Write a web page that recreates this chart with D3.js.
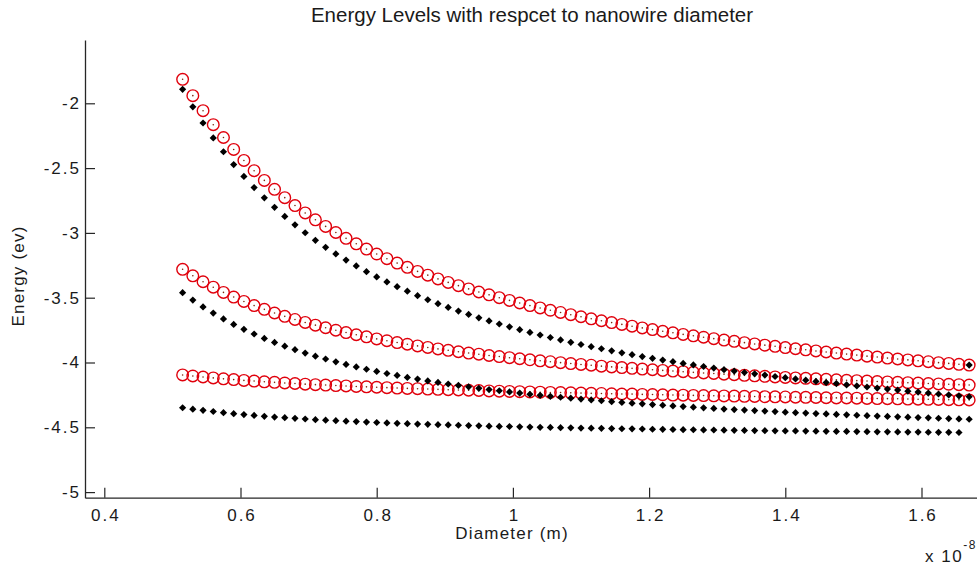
<!DOCTYPE html>
<html><head><meta charset="utf-8">
<script src="https://cdn.jsdelivr.net/npm/d3@7"></script>
<style>
body{margin:0;background:#fff}
svg{display:block}
text{font-family:"Liberation Sans",Arial,Helvetica,sans-serif;fill:#1a1a1a}
</style>
</head><body>
<svg id="chart" width="977" height="568"></svg>
<script>
// Diameter (units of 1e-8 m)
const diameter = [0.515,0.530,0.545,0.560,0.575,0.590,0.605,0.620,0.635,0.650,
0.665,0.680,0.695,0.710,0.725,0.740,0.755,0.770,0.785,0.800,
0.815,0.830,0.845,0.860,0.875,0.890,0.905,0.920,0.935,0.950,
0.965,0.980,0.995,1.010,1.025,1.040,1.055,1.070,1.085,1.100,
1.115,1.130,1.145,1.160,1.175,1.190,1.205,1.220,1.235,1.250,
1.265,1.280,1.295,1.310,1.325,1.340,1.355,1.370,1.385,1.400,
1.415,1.430,1.445,1.460,1.475,1.490,1.505,1.520,1.535,1.550,
1.565,1.580,1.595,1.610,1.625,1.640,1.655,1.670];

// red circle series
const red1 = [-1.815,-1.941,-2.057,-2.165,-2.264,-2.356,-2.441,-2.520,-2.595,-2.664,
-2.728,-2.789,-2.846,-2.899,-2.950,-2.997,-3.042,-3.084,-3.125,-3.163,
-3.199,-3.233,-3.266,-3.297,-3.326,-3.355,-3.382,-3.407,-3.432,-3.456,
-3.478,-3.500,-3.521,-3.541,-3.561,-3.579,-3.597,-3.614,-3.631,-3.647,
-3.663,-3.678,-3.692,-3.706,-3.720,-3.733,-3.746,-3.759,-3.771,-3.783,
-3.794,-3.805,-3.816,-3.827,-3.837,-3.847,-3.857,-3.866,-3.875,-3.885,
-3.894,-3.902,-3.911,-3.919,-3.927,-3.935,-3.943,-3.951,-3.958,-3.966,
-3.973,-3.980,-3.987,-3.994,-4.001,-4.007,-4.014,-4.020];
const red2 = [-3.281,-3.331,-3.377,-3.419,-3.459,-3.495,-3.529,-3.561,-3.590,-3.618,
-3.644,-3.668,-3.691,-3.712,-3.732,-3.751,-3.769,-3.786,-3.802,-3.818,
-3.832,-3.846,-3.859,-3.872,-3.884,-3.895,-3.906,-3.917,-3.927,-3.936,
-3.946,-3.954,-3.963,-3.971,-3.979,-3.987,-3.994,-4.001,-4.008,-4.015,
-4.021,-4.028,-4.034,-4.039,-4.045,-4.051,-4.056,-4.061,-4.066,-4.071,
-4.076,-4.081,-4.085,-4.090,-4.094,-4.099,-4.103,-4.107,-4.111,-4.115,
-4.119,-4.122,-4.126,-4.130,-4.133,-4.137,-4.140,-4.143,-4.147,-4.150,
-4.153,-4.156,-4.159,-4.162,-4.165,-4.168,-4.171,-4.174];
const red3 = [-4.096,-4.104,-4.112,-4.119,-4.126,-4.132,-4.138,-4.143,-4.149,-4.153,
-4.158,-4.162,-4.167,-4.171,-4.174,-4.178,-4.181,-4.185,-4.188,-4.191,
-4.194,-4.197,-4.200,-4.202,-4.205,-4.207,-4.210,-4.212,-4.214,-4.216,
-4.219,-4.221,-4.223,-4.225,-4.227,-4.229,-4.231,-4.232,-4.234,-4.236,
-4.238,-4.239,-4.241,-4.243,-4.244,-4.246,-4.247,-4.249,-4.251,-4.252,
-4.254,-4.255,-4.257,-4.258,-4.259,-4.261,-4.262,-4.264,-4.265,-4.266,
-4.268,-4.269,-4.270,-4.272,-4.273,-4.274,-4.275,-4.277,-4.278,-4.279,
-4.280,-4.282,-4.283,-4.284,-4.285,-4.287,-4.288,-4.289];

// black diamond series
const black1 = [-1.892,-2.027,-2.152,-2.267,-2.374,-2.473,-2.564,-2.650,-2.729,-2.803,
-2.873,-2.938,-2.999,-3.057,-3.111,-3.162,-3.210,-3.255,-3.299,-3.340,
-3.378,-3.415,-3.450,-3.484,-3.516,-3.546,-3.575,-3.603,-3.629,-3.655,
-3.679,-3.703,-3.725,-3.747,-3.768,-3.788,-3.807,-3.826,-3.844,-3.861,
-3.878,-3.894,-3.910,-3.925,-3.940,-3.954,-3.968,-3.981,-3.994,-4.007,
-4.019,-4.031,-4.043,-4.055,-4.066,-4.077,-4.087,-4.097,-4.108,-4.117,
-4.127,-4.136,-4.146,-4.155,-4.163,-4.172,-4.181,-4.189,-4.197,-4.205,
-4.213,-4.221,-4.228,-4.236,-4.243,-4.250,-4.257,-4.264];
const black2 = [-3.461,-3.518,-3.571,-3.619,-3.664,-3.706,-3.744,-3.780,-3.814,-3.845,
-3.874,-3.901,-3.927,-3.951,-3.973,-3.995,-4.015,-4.034,-4.052,-4.069,
-4.085,-4.100,-4.115,-4.128,-4.142,-4.154,-4.166,-4.177,-4.188,-4.199,
-4.209,-4.218,-4.227,-4.236,-4.245,-4.253,-4.261,-4.268,-4.275,-4.282,
-4.289,-4.295,-4.302,-4.308,-4.314,-4.319,-4.325,-4.330,-4.335,-4.340,
-4.345,-4.350,-4.354,-4.359,-4.363,-4.367,-4.371,-4.375,-4.379,-4.383,
-4.387,-4.390,-4.394,-4.397,-4.401,-4.404,-4.407,-4.410,-4.413,-4.416,
-4.419,-4.422,-4.425,-4.427,-4.430,-4.433,-4.435,-4.438];
const black3 = [-4.349,-4.360,-4.369,-4.378,-4.387,-4.395,-4.402,-4.408,-4.415,-4.421,
-4.426,-4.431,-4.436,-4.441,-4.445,-4.449,-4.453,-4.456,-4.460,-4.463,
-4.466,-4.469,-4.472,-4.475,-4.477,-4.480,-4.482,-4.484,-4.487,-4.489,
-4.491,-4.493,-4.494,-4.496,-4.498,-4.500,-4.501,-4.503,-4.504,-4.506,
-4.507,-4.508,-4.510,-4.511,-4.512,-4.513,-4.515,-4.516,-4.517,-4.518,
-4.519,-4.520,-4.521,-4.522,-4.523,-4.524,-4.525,-4.526,-4.527,-4.528,
-4.528,-4.529,-4.530,-4.531,-4.532,-4.532,-4.533,-4.534,-4.535,-4.535,
-4.536,-4.537,-4.537,-4.538,-4.539,-4.539,-4.540];
// single black point at the end of the top red curve
const extraDiameter = [1.670];
const extraEnergy = [-4.020];

const xTicks = [0.4, 0.6, 0.8, 1, 1.2, 1.4, 1.6];
const yTicks = [-2, -2.5, -3, -3.5, -4, -4.5, -5];

const titleText = "Energy Levels with respcet to nanowire diameter";
const xLabel = "Diameter (m)";
const yLabel = "Energy (ev)";

const svg = d3.select("#chart");
const plotLeft = 85, plotRight = 977, plotTop = 40, plotBottom = 497.7;

const x = d3.scaleLinear().domain([0.37166, 1.6815]).range([plotLeft, plotRight]);
const y = d3.scaleLinear().domain([-5.0432, -1.5116]).range([plotBottom, plotTop]);

const FONT = 17;
const axisColor = "#262626";

// markers
const plot = svg.append("g");
function pairs(xs, ys){ return ys.map((v,i)=>({x:xs[i], y:v})); }

[red1, red2, red3].forEach(series => {
  const g = plot.append("g");
  const pts = pairs(diameter, series);
  g.selectAll("circle.o").data(pts).enter().append("circle")
    .attr("cx", d=>x(d.x)).attr("cy", d=>y(d.y)).attr("r", 5.8)
    .attr("fill", "none").attr("stroke", "#e0000c").attr("stroke-width", 1.4);
  g.selectAll("circle.dot").data(pts).enter().append("circle")
    .attr("cx", d=>x(d.x)).attr("cy", d=>y(d.y)).attr("r", 0.8)
    .attr("fill", "#7a2a10");
});

const diamond = "M0,-3.6L3.6,0L0,3.6L-3.6,0Z";
[[diameter, black1],[diameter, black2],[diameter, black3],[extraDiameter, extraEnergy]].forEach(([xs, ys]) => {
  plot.append("g").selectAll("path").data(pairs(xs, ys)).enter().append("path")
    .attr("d", diamond)
    .attr("transform", d=>`translate(${x(d.x)},${y(d.y)})`)
    .attr("fill", "#000");
});

// axes
const xAxis = d3.axisBottom(x).tickValues(xTicks).tickFormat(d=>String(d))
  .tickSizeInner(-10).tickSizeOuter(0).tickPadding(11);
const yAxis = d3.axisLeft(y).tickValues(yTicks).tickFormat(d=>String(d))
  .tickSizeInner(-10).tickSizeOuter(0).tickPadding(4);

const gx = svg.append("g").attr("transform", `translate(0,${plotBottom})`).call(xAxis);
const gy = svg.append("g").attr("transform", `translate(${plotLeft},0)`).call(yAxis);
[gx, gy].forEach(g => {
  g.select(".domain").attr("stroke", axisColor).attr("stroke-width", 1.3);
  g.selectAll(".tick line").attr("stroke", axisColor).attr("stroke-width", 1.2);
  g.selectAll(".tick text").attr("font-size", FONT).attr("fill", "#1a1a1a")
    .style("letter-spacing", "2px").attr("font-family", null);
});
gx.selectAll(".tick text").attr("dx", 1);

// title and labels
svg.append("text").attr("x", 532).attr("y", 22).attr("text-anchor", "middle")
  .attr("font-size", 20.5).text(titleText);
svg.append("text").attr("x", 512).attr("y", 539).attr("text-anchor", "middle")
  .attr("font-size", FONT).style("letter-spacing", "1.2px").text(xLabel);
svg.append("text").attr("transform", "translate(24,276) rotate(-90)")
  .attr("text-anchor", "middle").attr("font-size", FONT).style("letter-spacing", "1.2px").text(yLabel);

const mult = svg.append("text").attr("x", 925).attr("y", 562).attr("font-size", FONT)
  .style("letter-spacing", "1.5px");
mult.append("tspan").text("x 10");
mult.append("tspan").attr("dy", -13).attr("font-size", 12).text("-8");
</script>
</body></html>
